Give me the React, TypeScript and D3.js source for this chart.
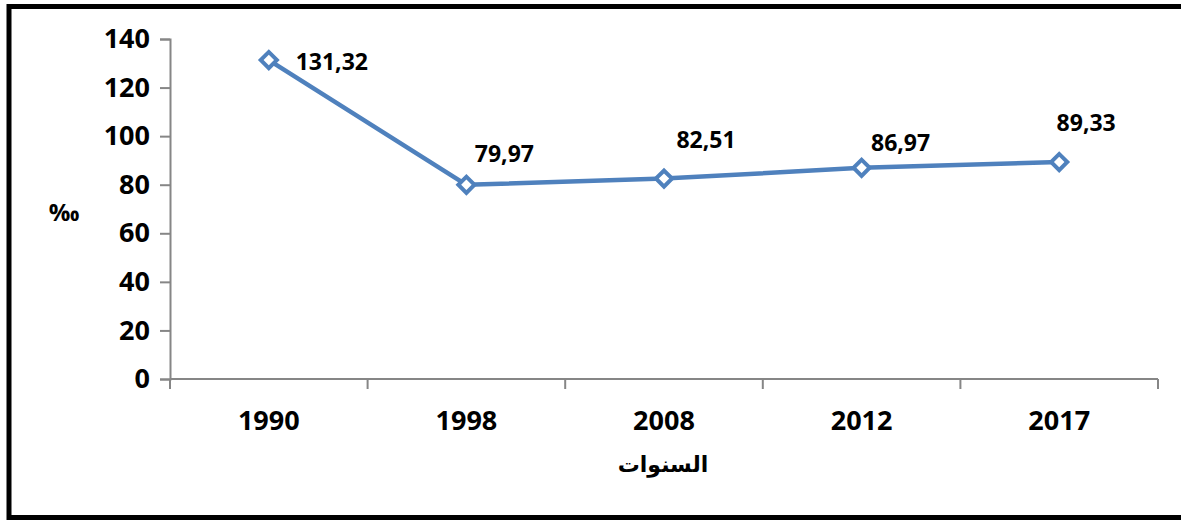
import React, { useEffect, useRef } from 'react';
import * as d3 from 'd3';

// data
const years = ['1990', '1998', '2008', '2012', '2017'];
const values = [131.32, 79.97, 82.51, 86.97, 89.33];
const valueLabels = ['131,32', '79,97', '82,51', '86,97', '89,33'];
const yTicks = [0, 20, 40, 60, 80, 100, 120, 140];
const yTitle = '‰';
const xTitle = 'السنوات';

// label nudges (px) relative to each point, as placed in the original
const labelDx = [63, 38, 42, 39, 27];
const labelDy = [10, -23, -31, -17, -31];

const W = 1181;
const H = 520;
const margin = { left: 170, right: 23, top: 39, bottom: 141 };

export default function App() {
  const ref = useRef<SVGSVGElement>(null);

  useEffect(() => {
    const svg = d3.select(ref.current);
    svg.selectAll('*').remove();

    // outer frame
    svg.append('rect')
      .attr('x', 9).attr('y', 6.5)
      .attr('width', W + 20).attr('height', 511)
      .attr('fill', 'white')
      .attr('stroke', '#000').attr('stroke-width', 5);

    const width = W - margin.left - margin.right;
    const height = H - margin.top - margin.bottom;
    const g = svg.append('g').attr('transform', 'translate(' + margin.left + ',' + margin.top + ')');

    const x = d3.scaleBand().domain(years).range([0, width]).padding(0);
    const y = d3.scaleLinear().domain([0, 140]).range([height, 0]);

    const axisColor = '#868686';
    const font = "'Open Sans', 'Noto Sans', sans-serif";

    // y axis
    const ya = g.append('g')
      .call(d3.axisLeft(y).tickValues(yTicks).tickSize(10).tickSizeOuter(10).tickPadding(10).tickFormat(d3.format('d')));
    ya.select('.domain').attr('stroke', axisColor).attr('stroke-width', 2);
    ya.selectAll('.tick line').attr('stroke', axisColor).attr('stroke-width', 2);
    ya.selectAll('.tick text')
      .attr('fill', '#000')
      .style('font-family', font).style('font-weight', 700).style('font-size', '27px');

    // x axis: ticks on band edges
    const xa = g.append('g').attr('transform', 'translate(0,' + height + ')');
    xa.append('line')
      .attr('x1', 0).attr('x2', width)
      .attr('stroke', axisColor).attr('stroke-width', 2);
    const edges = years.map(d => x(d) as number).concat([width]);
    xa.selectAll('line.tk').data(edges).enter().append('line')
      .attr('class', 'tk')
      .attr('x1', d => d).attr('x2', d => d)
      .attr('y1', 0).attr('y2', 10)
      .attr('stroke', axisColor).attr('stroke-width', 2);
    xa.selectAll('text').data(years).enter().append('text')
      .attr('x', d => (x(d) as number) + x.bandwidth() / 2)
      .attr('y', 51)
      .attr('text-anchor', 'middle')
      .style('font-family', font).style('font-weight', 700).style('font-size', '27px')
      .text(d => d);

    // line
    const cx = (i: number) => (x(years[i]) as number) + x.bandwidth() / 2;
    const line = d3.line<number>().x((d, i) => cx(i)).y(d => y(d));
    g.append('path')
      .datum(values)
      .attr('d', line)
      .attr('fill', 'none')
      .attr('stroke', '#4F81BD')
      .attr('stroke-width', 4.5)
      .attr('stroke-linejoin', 'round');

    // diamond markers
    const diamond = d3.symbol().type(d3.symbolSquare).size(130);
    g.selectAll('path.mk').data(values).enter().append('path')
      .attr('class', 'mk')
      .attr('d', diamond)
      .attr('transform', (d, i) => 'translate(' + cx(i) + ',' + y(d) + ') rotate(45)')
      .attr('fill', 'white')
      .attr('stroke', '#4F81BD')
      .attr('stroke-width', 4);

    // value labels
    g.selectAll('text.lbl').data(values).enter().append('text')
      .attr('class', 'lbl')
      .attr('x', (d, i) => cx(i) + labelDx[i])
      .attr('y', (d, i) => y(d) + labelDy[i])
      .attr('text-anchor', 'middle')
      .style('font-family', font).style('font-weight', 700).style('font-size', '23px')
      .text((d, i) => valueLabels[i]);

    // axis titles
    svg.append('text')
      .attr('x', 64).attr('y', 221)
      .attr('text-anchor', 'middle')
      .style('font-family', font).style('font-weight', 700).style('font-size', '24px')
      .text(yTitle);
    svg.append('text')
      .attr('x', 663).attr('y', 472)
      .attr('text-anchor', 'middle')
      .attr('direction', 'rtl')
      .style('font-family', "'DejaVu Sans', sans-serif").style('font-weight', 700).style('font-size', '22px')
      .text(xTitle);
  }, []);

  return (
    <svg ref={ref} width={W} height={H}
      style={{ position: 'absolute', left: 0, top: 0, display: 'block', background: 'white' }} />
  );
}
